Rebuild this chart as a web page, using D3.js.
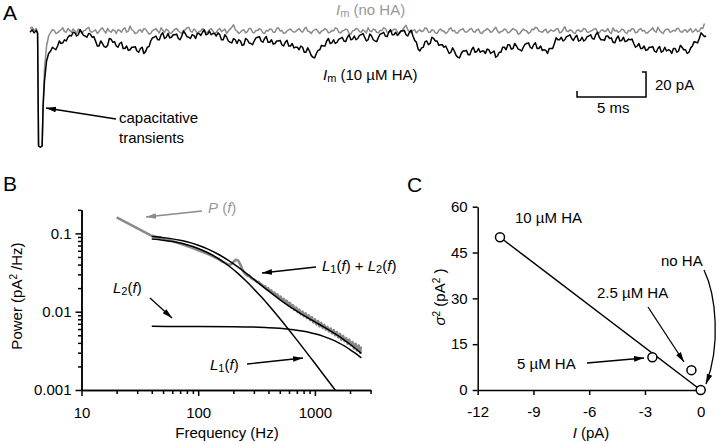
<!DOCTYPE html>
<html><head><meta charset="utf-8">
<script src="https://cdn.jsdelivr.net/npm/d3@7"></script>
<style>body{margin:0;background:#fff} text{font-family:"Liberation Sans",Arial,Helvetica,sans-serif}</style>
</head><body><svg id="c" width="720" height="444"></svg>
<script>
// ---------- Panel A data (current, pA) ----------
const transT     = [0, 0.15, 0.3, 0.45, 0.55, 0.62, 0.75, 0.88, 0.95, 1.05, 1.2, 1.35];
const transBlack = [-1, 1, -1.5, 0.5, -2, -92, -93, -92, -60, -40, -24, -18];
const transGray  = [2, 3, 0.5, 2, -1, -92, -93, -92, -60, -30, -12, -4];
const mainT0 = 1.5, mainDt = 0.125; // ms
const blackMain = [-16,-13,-14,-15,-12,-8,-10,-9.5,-7,-8,-5,-3.5,-4,-1,-1.5,-4,-3,1,-1,-3.5,-4,-5,-2,-2.5,-5,-4.5,-8,-12,-12,-8,-10,-12.5,-13,-11.5,-6,-6.5,-9,-8.5,-12,-13,-10,-9,-14,-14,-12,-15.5,-15,-13,-13,-12.5,-16,-17,-14,-13,-18,-16.5,-13,-12.5,-8,-5.5,-5,-4,-7,-7,-3,-1.5,-6,-5,-2,-5.5,-5,-3,-3,-2.5,-6,-7,-4,0,-2,-4.5,-5,-6,-3,-3.5,-6,-2,-2,-3.5,-1,1,-3,-2.5,0,-3,-2,-2,-4,-1.5,-3,-7,-7,-3,-5,-8,-9,-9.5,-6,-7,-10,-7,-8,-11.5,-11,-6,-7,-9.5,-10,-11,-8,-5.5,-5,-4.5,-8,-9,-6,-4.5,-9,-9,-7,-10.5,-10,-8,-8,-7.5,-11,-12,-9,-7.5,-12,-12,-10,-13.5,-13,-13,-15,-12,-13,-17,-17,-13.5,-16,-19.5,-21,-21.5,-18,-15.5,-15,-11.5,-12,-12,-8,-6,-10,-9.5,-7,-10,-9,-6.5,-6,-5,-8,-8.5,-5,-3,-7,-6.5,-4,-7,-6,-3.5,-3,-2,-5,-8,-7,-2.5,-4,-7,-8,-8.5,-5,-2.5,-2,-1,-4,-4.5,-1,1,-3,-3,-1,-3.5,-2,0,0,0.5,-3,-4,-1,0.5,-4,-7.5,-9,-14.5,-16,-13.5,-13,-8.5,-8,-11,-10,-5,-6,-8,-8,-11.5,-11,-11,-13,-12,-15,-18,-17,-13.5,-16,-19.5,-21,-21.5,-18,-16,-16,-15.5,-19,-19,-15,-13,-17,-16.5,-14,-17,-16,-16,-18,-14.5,-15,-18,-17,-16,-21,-20,-17,-17,-13,-13,-15,-11,-11,-14.5,-14,-10,-12,-14.5,-15,-16,-13,-10.5,-10,-9.5,-13,-14,-11,-9.5,-14,-14,-12,-15.5,-15,-15.5,-18,-14,-14,-14,-10,-5.5,-7,-7,-5,-8,-7,-4.5,-4,-3,-6,-7.5,-5,-3.5,-8,-7.5,-5,-8,-7,-4.5,-4,-3,-6,-6.5,-3,-1,-5,-7,-7,-7.5,-4,-4,-6,-5.5,-9,-9.5,-6,-4,-8,-7.5,-5,-8.5,-8,-6.5,-7,-6.5,-10,-13,-12,-10,-14,-14,-12,-15.5,-15,-13,-13,-12.5,-16,-17,-14,-12.5,-17,-16,-13,-16,-15,-15.5,-18,-14,-14,-17,-16,-11.5,-13,-15,-15,-18,-17,-13.5,-12,-8.5,-9,-9.5,-6,-1.5,-3,-4.5,-4];
const grayMain = [-1,1,0.5,-2,-1.5,0,1,2.5,-0.5,-1,2,0.5,-1,1.5,0,-2,1.5,1,-2,0,0.5,2,3,-0.5,-1,0,1,-2,-0.5,1.5,2.5,0,-1.5,2,0,-1,1,0.5,-2,1,0.5,-1,1.5,2.5,-1,0,4,1,0,-2,-1.5,0.5,1,-1,2,1.5,-0.5,-2.5,-2,0.5,1,2,0,-1.5,2.5,0.5,-1,1.5,0.5,-2,-1.5,0,1.5,2,0,-1,-2,0.5,1,2.5,3,0,-1,1.5,0.5,-2,-0.5,0,2,1,-1.5,-1,1,2,0,-2,-1,1,2,-0.5,0.5,1.5,-2,0,1.5,3,5,1,0,-2,-1,0.5,1,-1.5,-0.5,2,2,-1,-1.5,0.5,0.5,2,1,-1.5,-2,0.5,0,1.5,1.5,-1,-1,2,2.5,0,0.5,-2,-1.5,0,1,1.5,0,-1,-0.5,1,2,0,-1,1.5,3,0,-0.5,-2,0,1,1.5,-0.5,-2,0,0.5,2,1,-1.5,-1,0.5,0,2.5,2,-1,-1.5,0,0.5,1.5,1,-2,-2.5,0,0.5,2,1.5,-0.5,-1,1,0,-1.5,2.5,0,-0.5,1.5,1,-1,-1.5,0.5,0.5,2.5,2,-1,-1,0.5,0,1.5,1.5,-1,-2,0,1,3,4.5,1,-0.5,-1.5,0.5,1,-1.5,0,1,-0.5,0,2.5,2,-1,-1,1,0.5,-1.5,-2,0.5,1.5,0,0,-2,-1,1.5,2.5,0,0.5,-1.5,-1.5,0.5,1,2,-0.5,-1,0,1.5,2,-0.5,-1,1,1.5,-1.5,-2,0,0.5,2,1,-1,-0.5,1.5,3,0,-1.5,-0.5,0,1.5,1,-1.5,-1,0.5,2,1,0.5,-2.5,-2,0,1.5,0.5,0,-2,-1,1.5,1,3,2.5,0,-0.5,-1,0.5,1.5,-1.5,-0.5,1,0,0,1.5,2,-1.5,-1,1,3.5,0,-0.5,1,0.5,-1.5,-2,0.5,1,-0.5,0,2,1.5,-1,-1,0,0.5,1.5,2,-1,-1.5,0.5,1,-0.5,0,2,-1,-2,2.5,0,0.5,-1,-0.5,1.5,1,-1,-2,0.5,0,2,1.5,-1.5,-1,1,2,0,0.5,-1.5,-1.5,0,1,2.5,0,-1,3,0.5,-1,-2,0.5,1.5,1.5,-1,-0.5,0.5,0,2,2,-0.5,-1,0.5,1,-1,0.5,2,-1,0,1.5,-0.5,0,2.5,2,6];

// ---------- Panel B data ----------
const pFreq = [20,40,50,60,70,80,90,100,110,120,130,140,150,160,170,180,190,200,210,220,230,240,250,258,266,274,283,292,301,310,320,330,340,351,362,373,385,397,409,422,435,449,463,477,492,508,524,540,557,574,592,611,630,650,670,691,713,735,758,782,806,832,858,885,912,941,970,1000,1032,1064,1097,1132,1167,1204,1241,1280,1320,1362,1404,1448,1494,1540,1589,1638,1690,1743,1797,1853,1911,1971,2033,2097,2163,2230,2300,2372,2446,2480];
const pPower = [0.16,0.093,0.086,0.080,0.074,0.069,0.065,0.061,0.058,0.055,0.052,0.049,0.047,0.044,0.042,0.040,0.040,0.043,0.046,0.045,0.040,0.034,0.031,0.0295,0.0285,0.0290,0.0270,0.0262,0.0258,0.0250,0.0238,0.0240,0.0225,0.0222,0.0210,0.0212,0.0196,0.0200,0.0185,0.0188,0.0172,0.0176,0.0162,0.0166,0.0150,0.0156,0.0140,0.0146,0.0132,0.0138,0.0122,0.0130,0.0114,0.0121,0.0106,0.0113,0.0099,0.0106,0.0093,0.0100,0.0088,0.0095,0.0083,0.0090,0.0078,0.0085,0.0073,0.0080,0.0069,0.0076,0.0065,0.0072,0.0062,0.0068,0.0059,0.0064,0.0056,0.0061,0.0053,0.0058,0.0050,0.0055,0.0047,0.0052,0.0044,0.0049,0.0042,0.0046,0.0039,0.0044,0.0037,0.0041,0.0034,0.0039,0.0032,0.0037,0.0030,0.0036];
const l1Freq = [40,50,60,70,80,100,120,150,180,220,260,300,350,400,500,600,700,800,900,1000,1200,1400,1500,1600];
const l1Power = [0.08458,0.08181,0.07866,0.07523,0.07163,0.06426,0.05708,0.04734,0.03917,0.03063,0.02427,0.01954,0.01524,0.01215,0.008171,0.005836,0.004363,0.003379,0.002691,0.002192,0.001534,0.001132,0.000988,0.000869];
const l2Freq = [40,100,200,300,400,500,600,700,800,900,1000,1200,1400,1600,1800,2000,2200,2500];
const l2Power = [0.006497,0.006484,0.006437,0.006360,0.006255,0.006125,0.005973,0.005803,0.005619,0.005423,0.005221,0.004804,0.004391,0.003994,0.003623,0.003282,0.002973,0.002567];
const sumFreq = [40,50,60,70,80,100,120,150,180,220,260,300,350,400,500,600,700,800,900,1000,1200,1400,1600,1800,2000,2200,2500];
const sumPower = [0.09108,0.08831,0.08515,0.08172,0.07812,0.07074,0.06356,0.05380,0.04562,0.03705,0.03066,0.02590,0.02156,0.01841,0.01430,0.01181,0.01017,0.00900,0.00811,0.00741,0.00634,0.00552,0.00486,0.00431,0.00384,0.00344,0.00293];
const bXMajor = [10,100,1000];
const bXMinor = [20,30,40,50,60,70,80,90,200,300,400,500,600,700,800,900,2000,3000];
const bYMajor = [0.001,0.01,0.1];
const bYMinor = [0.002,0.003,0.004,0.005,0.006,0.007,0.008,0.009,0.02,0.03,0.04,0.05,0.06,0.07,0.08,0.09,0.2];

// ---------- Panel C data ----------
const cLabels = ["10 µM HA","5 µM HA","2.5 µM HA","no HA"];
const cCurrent = [-10.8,-2.6,-0.5,0];
const cVariance = [50,10.7,6.5,0];
const cFit = [[-10.8,50],[0,0]];
const cXTicks = [-12,-9,-6,-3,0];
const cYTicks = [0,15,30,45,60];

const svg = d3.select("#c");
const FONT = '"Liberation Sans",Arial,Helvetica,sans-serif';
const defs = svg.append("defs");
function marker(id, color){
  defs.append("marker").attr("id",id).attr("viewBox","0 0 10 10").attr("refX",10).attr("refY",5)
    .attr("markerWidth",10).attr("markerHeight",10).attr("markerUnits","userSpaceOnUse").attr("orient","auto")
    .append("path").attr("d","M0,2.2 L10,5 L0,7.8 Z").attr("fill",color);
}
marker("ah","#000"); marker("ahg","#8a8a8a");
function arrow(x1,y1,x2,y2,color,m){
  svg.append("line").attr("x1",x1).attr("y1",y1).attr("x2",x2).attr("y2",y2)
    .attr("stroke",color||"#000").attr("stroke-width",1.3).attr("marker-end","url(#"+(m||"ah")+")");
}
function txt(x,y,parts,opts){
  opts=opts||{};
  const t=svg.append("text").attr("x",x).attr("y",y).attr("font-size",opts.size||15)
    .attr("fill",opts.fill||"#000").attr("text-anchor",opts.anchor||"start");
  if(opts.transform) t.attr("transform",opts.transform);
  parts.forEach(p=>{
    if(typeof p==="string"){ t.append("tspan").text(p); }
    else {
      const s=t.append("tspan").text(p.t);
      if(p.i) s.attr("font-style","italic");
      if(p.sub) s.attr("font-size",11).attr("baseline-shift","-22%");
      if(p.sup) s.attr("font-size",10).attr("baseline-shift","55%");
    }
  });
  return t;
}

// ================= Panel A =================
const xA = d3.scaleLinear().domain([0,49]).range([30,706.2]);
const yA = d3.scaleLinear().domain([0,-20]).range([31,56]);
const blackPts = transT.map((t,i)=>[t,transBlack[i]]).concat(blackMain.map((v,i)=>[mainT0+i*mainDt,v]));
const grayPts = transT.map((t,i)=>[t,transGray[i]]).concat(grayMain.map((v,i)=>[mainT0+i*mainDt,v]));
const lineA = d3.line().x(d=>xA(d[0])).y(d=>yA(d[1]));
svg.append("path").attr("d",lineA(grayPts)).attr("fill","none").attr("stroke","#8a8a8a").attr("stroke-width",1.5).attr("stroke-linejoin","round");
svg.append("path").attr("d",lineA(blackPts)).attr("fill","none").attr("stroke","#000").attr("stroke-width",1.5).attr("stroke-linejoin","round");
// scale bar
const sbT=39.64, sbI=-52.8;
svg.append("path").attr("d",`M${xA(sbT)},${yA(sbI+4.8)} L${xA(sbT)},${yA(sbI)} L${xA(sbT+5)},${yA(sbI)} L${xA(sbT+5)},${yA(sbI+20)} L${xA(sbT+5)-4},${yA(sbI+20)}`)
  .attr("fill","none").attr("stroke","#000").attr("stroke-width",1.5);
txt(655,90,["20 pA"]);
txt(597,113,["5 ms"]);
txt(3,20,["A"],{size:21});
txt(336,15,[{t:"I",i:1},{t:"m",sub:1}," (no HA)"],{fill:"#999"});
txt(323,80,[{t:"I",i:1},{t:"m",sub:1}," (10 µM HA)"]);
txt(119,123,["capacitative"]);
txt(119,143,["transients"]);
arrow(116,119,46,108);

// ================= Panel B =================
const xB = d3.scaleLog().domain([10,3000]).range([81.5,81.5+116.7*Math.log10(300)]);
const yB = d3.scaleLog().domain([0.001,0.2]).range([390,390-78.3*Math.log10(200)]);
defs.append("clipPath").attr("id","clipB").append("rect")
  .attr("x",xB(10)).attr("y",yB(0.2)-20).attr("width",xB(3000)-xB(10)).attr("height",yB(0.001)-yB(0.2)+20);
const gB = svg.append("g").attr("clip-path","url(#clipB)");
const lineB = d3.line().x(d=>xB(d[0])).y(d=>yB(d[1]));
const lineBs = d3.line().x(d=>xB(d[0])).y(d=>yB(d[1])).curve(d3.curveMonotoneX);
gB.append("path").attr("d",lineB(pFreq.map((f,i)=>[f,pPower[i]]))).attr("fill","none").attr("stroke","#8a8a8a").attr("stroke-width",2.6).attr("stroke-linejoin","round");
[[l1Freq,l1Power],[l2Freq,l2Power],[sumFreq,sumPower]].forEach(([F,P])=>{
  gB.append("path").attr("d",lineBs(F.map((f,i)=>[f,P[i]]))).attr("fill","none").attr("stroke","#000").attr("stroke-width",1.5);
});
function styleAxis(g){
  g.attr("font-family",FONT).attr("font-size",15);
  g.selectAll("path,line").attr("stroke","#000").attr("stroke-width",1.5);
  g.selectAll("text").attr("fill","#000");
}
svg.append("g").attr("transform",`translate(0,${yB(0.001)})`)
  .call(d3.axisBottom(xB).tickValues(bXMinor).tickSize(4).tickSizeOuter(0).tickFormat("")).call(styleAxis);
svg.append("g").attr("transform",`translate(0,${yB(0.001)})`)
  .call(d3.axisBottom(xB).tickValues(bXMajor).tickSize(6).tickSizeOuter(0).tickPadding(11).tickFormat(d=>String(d))).call(styleAxis);
svg.append("g").attr("transform",`translate(${xB(10)},0)`)
  .call(d3.axisLeft(yB).tickValues(bYMinor).tickSize(3.5).tickSizeOuter(0).tickFormat("")).call(styleAxis);
svg.append("g").attr("transform",`translate(${xB(10)},0)`)
  .call(d3.axisLeft(yB).tickValues(bYMajor).tickSize(6).tickSizeOuter(0).tickPadding(4).tickFormat(d=>String(d))).call(styleAxis);
txt(3,191,["B"],{size:21});
txt(227,438,["Frequency (Hz)"],{anchor:"middle"});
txt(0,0,["Power (pA",{t:"2",sup:1}," /Hz)"],{anchor:"middle",transform:"translate(22,296) rotate(-90)"});
txt(208,213,[{t:"P",i:1}," (",{t:"f",i:1},")"],{fill:"#999"});
arrow(202,211,146,217,"#8a8a8a","ahg");
txt(322,271,[{t:"L",i:1},{t:"1",sub:1},"(",{t:"f",i:1},") + ",{t:"L",i:1},{t:"2",sub:1},"(",{t:"f",i:1},")"]);
arrow(316,267,262,273);
txt(113,293,[{t:"L",i:1},{t:"2",sub:1},"(",{t:"f",i:1},")"]);
arrow(150,298,172,318);
txt(210,370,[{t:"L",i:1},{t:"1",sub:1},"(",{t:"f",i:1},")"]);
arrow(247,364,303,358);

// ================= Panel C =================
const xC = d3.scaleLinear().domain([-12,0]).range([477.7,700.7]);
const yC = d3.scaleLinear().domain([0,60]).range([390,206.7]);
svg.append("g").attr("transform",`translate(0,${yC(0)})`)
  .call(d3.axisBottom(xC).tickValues(cXTicks).tickSize(5).tickSizeOuter(0).tickPadding(11).tickFormat(d=>String(d))).call(styleAxis);
svg.append("g").attr("transform",`translate(${xC(-12)},0)`)
  .call(d3.axisLeft(yC).tickValues(cYTicks).tickSize(5).tickSizeOuter(0).tickPadding(5).tickFormat(d=>String(d))).call(styleAxis);
svg.append("path").attr("d",d3.line().x(d=>xC(d[0])).y(d=>yC(d[1]))(cFit)).attr("stroke","#000").attr("stroke-width",1.5).attr("fill","none");
svg.selectAll("circle.pt").data(cCurrent).enter().append("circle").attr("class","pt")
  .attr("cx",d=>xC(d)).attr("cy",(d,i)=>yC(cVariance[i])).attr("r",4.5)
  .attr("fill","#fff").attr("stroke","#000").attr("stroke-width",1.5);
txt(407,192,["C"],{size:21});
txt(515,223,[cLabels[0]]);
txt(517,369,[cLabels[1]]);
txt(597,298,[cLabels[2]]);
txt(661,266,[cLabels[3]]);
arrow(587,363,644,358);
arrow(648,307,684,362);
svg.append("path").attr("d","M704,270 C716,295 721,345 706,384").attr("fill","none").attr("stroke","#000").attr("stroke-width",1.3).attr("marker-end","url(#ah)");
txt(0,0,[{t:"σ",i:1},{t:"2",sup:1},"  (pA",{t:"2",sup:1}," )"],{anchor:"middle",transform:"translate(445,297) rotate(-90)"});
txt(591,438,[{t:"I",i:1}," (pA)"],{anchor:"middle"});
</script></body></html>
